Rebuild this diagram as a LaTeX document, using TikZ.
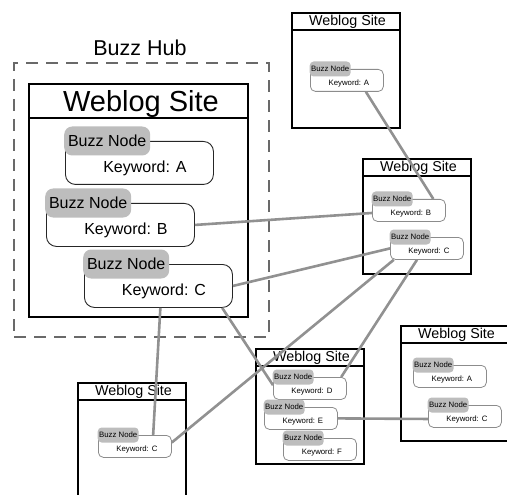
\documentclass[tikz,border=0pt]{standalone}
\usepackage{fontspec}
\setmainfont{Liberation Sans}

\definecolor{tabgray}{RGB}{189,189,189}
\definecolor{linkgray}{RGB}{145,145,145}
\definecolor{hubgray}{RGB}{105,105,105}

\begin{document}
\begin{tikzpicture}[x=1pt,y=-1pt,
  hub/.style={draw=hubgray, line width=2.4pt, dash pattern=on 12pt off 8pt, inner sep=0pt, outer sep=0pt},
  site/.style={draw=black, line width=1.3pt, minimum width=108pt, minimum height=115pt, inner sep=0pt, outer sep=0pt},
  bigtitle/.style={font=\fontsize{29}{32}\selectfont, anchor=base},
  title/.style={font=\fontsize{14.3}{16}\selectfont, anchor=base},
  bigbody/.style={draw=black!85, line width=0.9pt, rounded corners=10pt, fill=white, minimum width=148pt, minimum height=43pt, inner sep=0pt},
  bigtab/.style={fill=tabgray, rounded corners=8pt, minimum width=86pt, minimum height=29pt, inner sep=0pt, font=\fontsize{16}{18}\selectfont},
  bigkey/.style={font=\fontsize{16}{18}\selectfont, xshift=5.5pt, yshift=-5.5pt},
  body/.style={draw=black!45, line width=0.8pt, rounded corners=5pt, fill=white, minimum width=73pt, minimum height=22pt, inner sep=0pt},
  tab/.style={fill=tabgray, rounded corners=4pt, minimum width=41pt, minimum height=15pt, inner sep=0pt, font=\fontsize{7.8}{9}\selectfont},
  key/.style={font=\fontsize{7.8}{9}\selectfont, xshift=2pt, yshift=-3pt},
  link/.style={draw=linkgray, line width=2.6pt},
]
  \clip (0,0) rectangle (507,495);

  % the hub around the big site
  \node[font=\fontsize{21.5}{24}\selectfont, anchor=base] (hub label) at (140,56) {Buzz Hub};
  \node[hub, minimum width=255pt, minimum height=274pt, anchor=north west] (hub) at (14,63) {};

  \node[site, line width=2.6pt, minimum width=219pt, minimum height=233pt, anchor=north west] (main) at (29,84) {};
  \draw[line width=2pt] ([yshift=-34pt]main.north west) -- ([yshift=-34pt]main.north east);
  \node[bigtitle] (main title) at (141,112) {Weblog Site};

  % the small sites
  \foreach \s/\x/\y in {tr/292/13, mr/363/159, bl/78/383, bm/256/349, br/401/326} {
    \node[site, anchor=north west] (\s) at (\x,\y) {};
    \draw[line width=1.3pt] ([yshift=-17pt]\s.north west) -- ([yshift=-17pt]\s.north east);
    \node[title] (\s-title) at (\x+55.5,\y+12.5) {Weblog Site};
  }

  % buzz nodes: body, tab on its corner, keyword
  \foreach \n/\x/\y/\k in {hA/65/141/A, hB/46/203/B, hC/84/264/C} {
    \node[bigbody, anchor=north west] (\n) at (\x,\y) {};
    \node[bigtab, anchor=west, xshift=-1pt] (\n-tab) at (\n.north west) {Buzz Node};
    \node[bigkey] (\n-key) at (\n.center) {Keyword: \k};
  }
  \foreach \n/\x/\y/\k in {tA/310/69/A, mB/372/199/B, mC/390/237/C, lC/98/435/C,
                           dD/273/377/D, dE/264/407/E, dF/283/438/F, rA/413/365/A, rC/428/405/C} {
    \node[body, anchor=north west] (\n) at (\x,\y) {};
    \node[tab, anchor=west, xshift=-0.5pt] (\n-tab) at (\n.north west) {Buzz Node};
    \node[key] (\n-key) at (\n.center) {Keyword: \k};
  }

  % keyword links
  \draw[link] (tA.-31) -- (mB.25);
  \draw[link] (hB.east) -- (mB.184);
  \draw[link] (hC.east) -- (mC.west);
  \draw[link] (hC.-85) -- (lC.32);
  \draw[link] (hC.-19.5) -- (dD.175);
  \draw[link] (lC.6) -- (mC.199);
  \draw[link] (mC.229) -- (dD.20);
  \draw[link] (dE.east) -- (rC.184);
\end{tikzpicture}
\end{document}
